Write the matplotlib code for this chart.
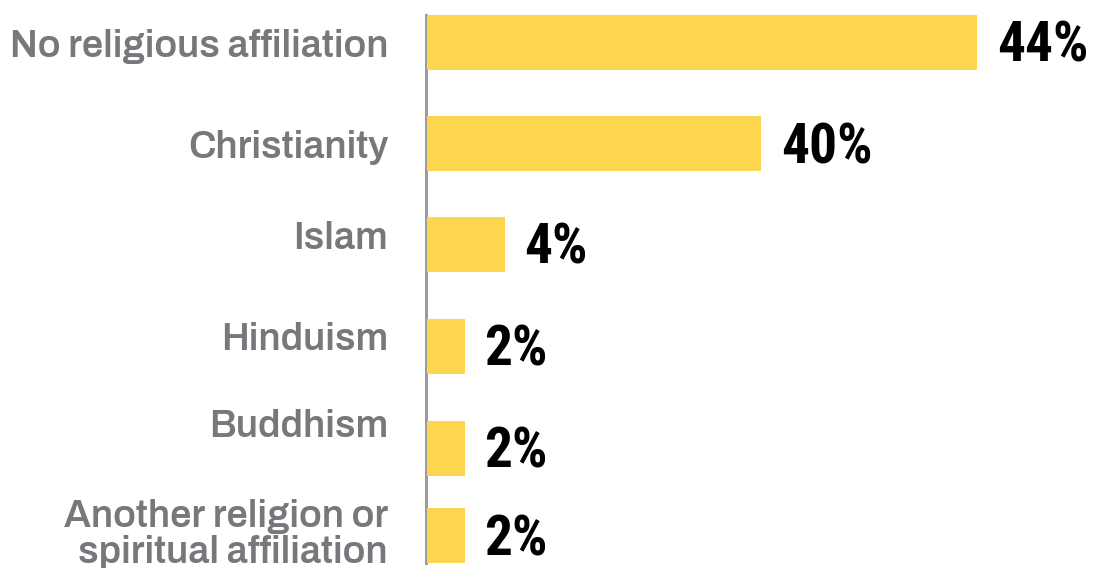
import matplotlib
matplotlib.use("Agg")
import matplotlib.pyplot as plt

# ---- data ----
categories = ["No religious affiliation", "Christianity", "Islam", "Hinduism",
              "Buddhism", "Another religion or\nspiritual affiliation"]
shares = [44, 40, 4, 2, 2, 2]                    # printed value labels (%)
bar_lengths = [44, 26.7, 6.2, 3.0, 3.0, 3.0]     # bar lengths as drawn in the picture
value_labels = [f"{v}%" for v in shares]

# ---- layout (pixel-based) ----
W, H = 1095, 568
x0_px = 427          # left edge of the bars
px_per_unit = 12.5
row_centers = [42.5, 143.5, 244.5, 346.5, 448.5, 535.5]
label_baselines = [57, 158, 249, 350, 437, 563]   # last line baseline for each label
bar_h = 55

fig = plt.figure(figsize=(W / 100, H / 100), dpi=100)
ax = fig.add_axes([x0_px / W, 0, (W - x0_px) / W, 1])
ax.set_xlim(0, (W - x0_px) / px_per_unit)
ax.set_ylim(H, 0)

ax.barh(row_centers, bar_lengths, height=bar_h, left=0, color="#fdd54f",
        edgecolor="none", zorder=3)

# axis line
for s in ["top", "right", "bottom"]:
    ax.spines[s].set_visible(False)
ax.spines["left"].set_color("#9a9b9f")
ax.spines["left"].set_linewidth(3 * 72 / 100)
ax.spines["left"].set_position(("outward", 1.5 * 72 / 100))
ax.spines["left"].set_bounds(15, 563)
ax.set_xticks([])
ax.set_yticks([])
ax.patch.set_visible(False)

label_x = (388 - x0_px) / px_per_unit
for cat, yb in zip(categories, label_baselines):
    ax.text(label_x, yb, cat, ha="right", va="baseline", fontsize=27.3,
            family=["Archivo", "DejaVu Sans"], fontweight=400, color="#77787b",
            linespacing=1.03, clip_on=False)

for length, lab, yc in zip(bar_lengths, value_labels, row_centers):
    ax.text(length + 1.6, yc + 19.5, lab, ha="left", va="baseline",
            fontsize=40, family=["Roboto Condensed", "DejaVu Sans"], fontweight="bold",
            color="#000000", clip_on=False)

fig.savefig("out.png", dpi=100)
